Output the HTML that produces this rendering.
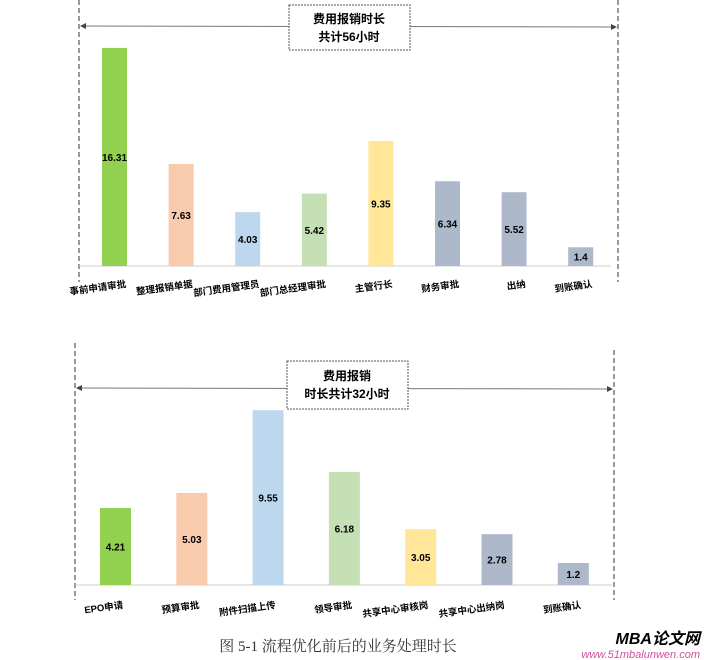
<!DOCTYPE html>
<html><head><meta charset="utf-8"><style>
body{margin:0;background:#fff;}
svg{display:block;font-family:"Liberation Sans","Noto Sans CJK SC",sans-serif;}
</style></head><body>
<svg id="s" width="704" height="660" viewBox="0 0 704 660" xmlns="http://www.w3.org/2000/svg">
<defs><marker id="ar" markerWidth="6" markerHeight="6" refX="5" refY="3" orient="auto"><path d="M0,0 L6,3 L0,6 z" fill="#444"/></marker>
<marker id="al" markerWidth="6" markerHeight="6" refX="1" refY="3" orient="auto"><path d="M6,0 L0,3 L6,6 z" fill="#444"/></marker></defs>
<g>
<line x1="79" y1="0" x2="79" y2="282" stroke="#333" stroke-dasharray="5,3"/>
<line x1="618" y1="0" x2="618" y2="282" stroke="#333" stroke-dasharray="5,3"/>
<line x1="81" y1="26" x2="616" y2="27" stroke="#777" marker-start="url(#al)" marker-end="url(#ar)"/>
<rect x="289" y="5" width="121" height="45" fill="#fff" stroke="#555" stroke-dasharray="2,1"/>
<text x="349" y="23" text-anchor="middle" font-size="12" font-weight="bold">费用报销时长</text>
<text x="349" y="41" text-anchor="middle" font-size="12" font-weight="bold">共计56小时</text>
<line x1="79" y1="266" x2="611" y2="266" stroke="#ccc"/>
<g id="b1"></g>
</g>
<g>
<line x1="75" y1="343" x2="75" y2="600" stroke="#333" stroke-dasharray="5,3"/>
<line x1="614" y1="350" x2="614" y2="600" stroke="#333" stroke-dasharray="5,3"/>
<line x1="77" y1="388" x2="612" y2="389" stroke="#777" marker-start="url(#al)" marker-end="url(#ar)"/>
<rect x="287" y="361" width="121" height="48" fill="#fff" stroke="#555" stroke-dasharray="2,1"/>
<text x="347" y="380" text-anchor="middle" font-size="12" font-weight="bold">费用报销</text>
<text x="347" y="398" text-anchor="middle" font-size="12" font-weight="bold">时长共计32小时</text>
<line x1="75" y1="585" x2="612" y2="585" stroke="#ccc"/>
<g id="b2"></g>
</g>
<text x="338" y="651" text-anchor="middle" font-size="15" font-family="Liberation Serif,Noto Serif CJK SC,serif" fill="#333">图 5-1 流程优化前后的业务处理时长</text>
<text x="700" y="644" text-anchor="end" font-size="16" font-weight="bold" font-style="italic">MBA论文网</text>
<text x="700" y="658" text-anchor="end" font-size="11" font-style="italic" fill="#d04fa0">www.51mbalunwen.com</text>
</svg>
<script>
const cats1=["事前申请审批","整理报销单据","部门费用管理员","部门总经理审批","主管行长","财务审批","出纳","到账确认"];
const vals1=[16.31,7.63,4.03,5.42,9.35,6.34,5.52,1.4];
const cats2=["EPO申请","预算审批","附件扫描上传","领导审批","共享中心审核岗","共享中心出纳岗","到账确认"];
const vals2=[4.21,5.03,9.55,6.18,3.05,2.78,1.2];
const colors=["#92d050","#f8cbad","#bdd7ee","#c5e0b4","#ffe699","#adb9ca","#adb9ca","#adb9ca"];
const NS="http://www.w3.org/2000/svg";
function draw(gid,cats,vals,x0,step,bw,base,scale,pre){
  const g=document.getElementById(gid);
  cats.forEach((c,i)=>{
    const cx=x0+i*step, h=vals[i]*scale;
    const r=document.createElementNS(NS,"rect");
    
    
    r.setAttribute("x",cx-bw/2);r.setAttribute("y",base-h);r.setAttribute("width",bw);r.setAttribute("height",h);r.setAttribute("fill",colors[i]);
    g.appendChild(r);
    const t=document.createElementNS(NS,"text");
    
    
    t.setAttribute("x",cx);t.setAttribute("y",base-h/2+4);t.setAttribute("text-anchor","middle");t.setAttribute("font-size","10");t.setAttribute("font-weight","bold");
    t.textContent=vals[i];g.appendChild(t);
    const l=document.createElementNS(NS,"text");
    
    
    const ly=base+(pre?21:23);
    l.setAttribute("x",cx+(pre?12:8));l.setAttribute("y",ly);l.setAttribute("text-anchor","end");l.setAttribute("font-size","9.5");l.setAttribute("font-weight","bold");
    l.setAttribute("transform","rotate(-8 "+(cx+(pre?12:8))+" "+ly+")");
    l.textContent=c;g.appendChild(l);
  });
}
draw("b1",cats1,vals1,114.5,66.6,25,266,13.37,true);
draw("b2",cats2,vals2,115.5,76.3,31,585,18.3,false);
</script>
</body></html>
